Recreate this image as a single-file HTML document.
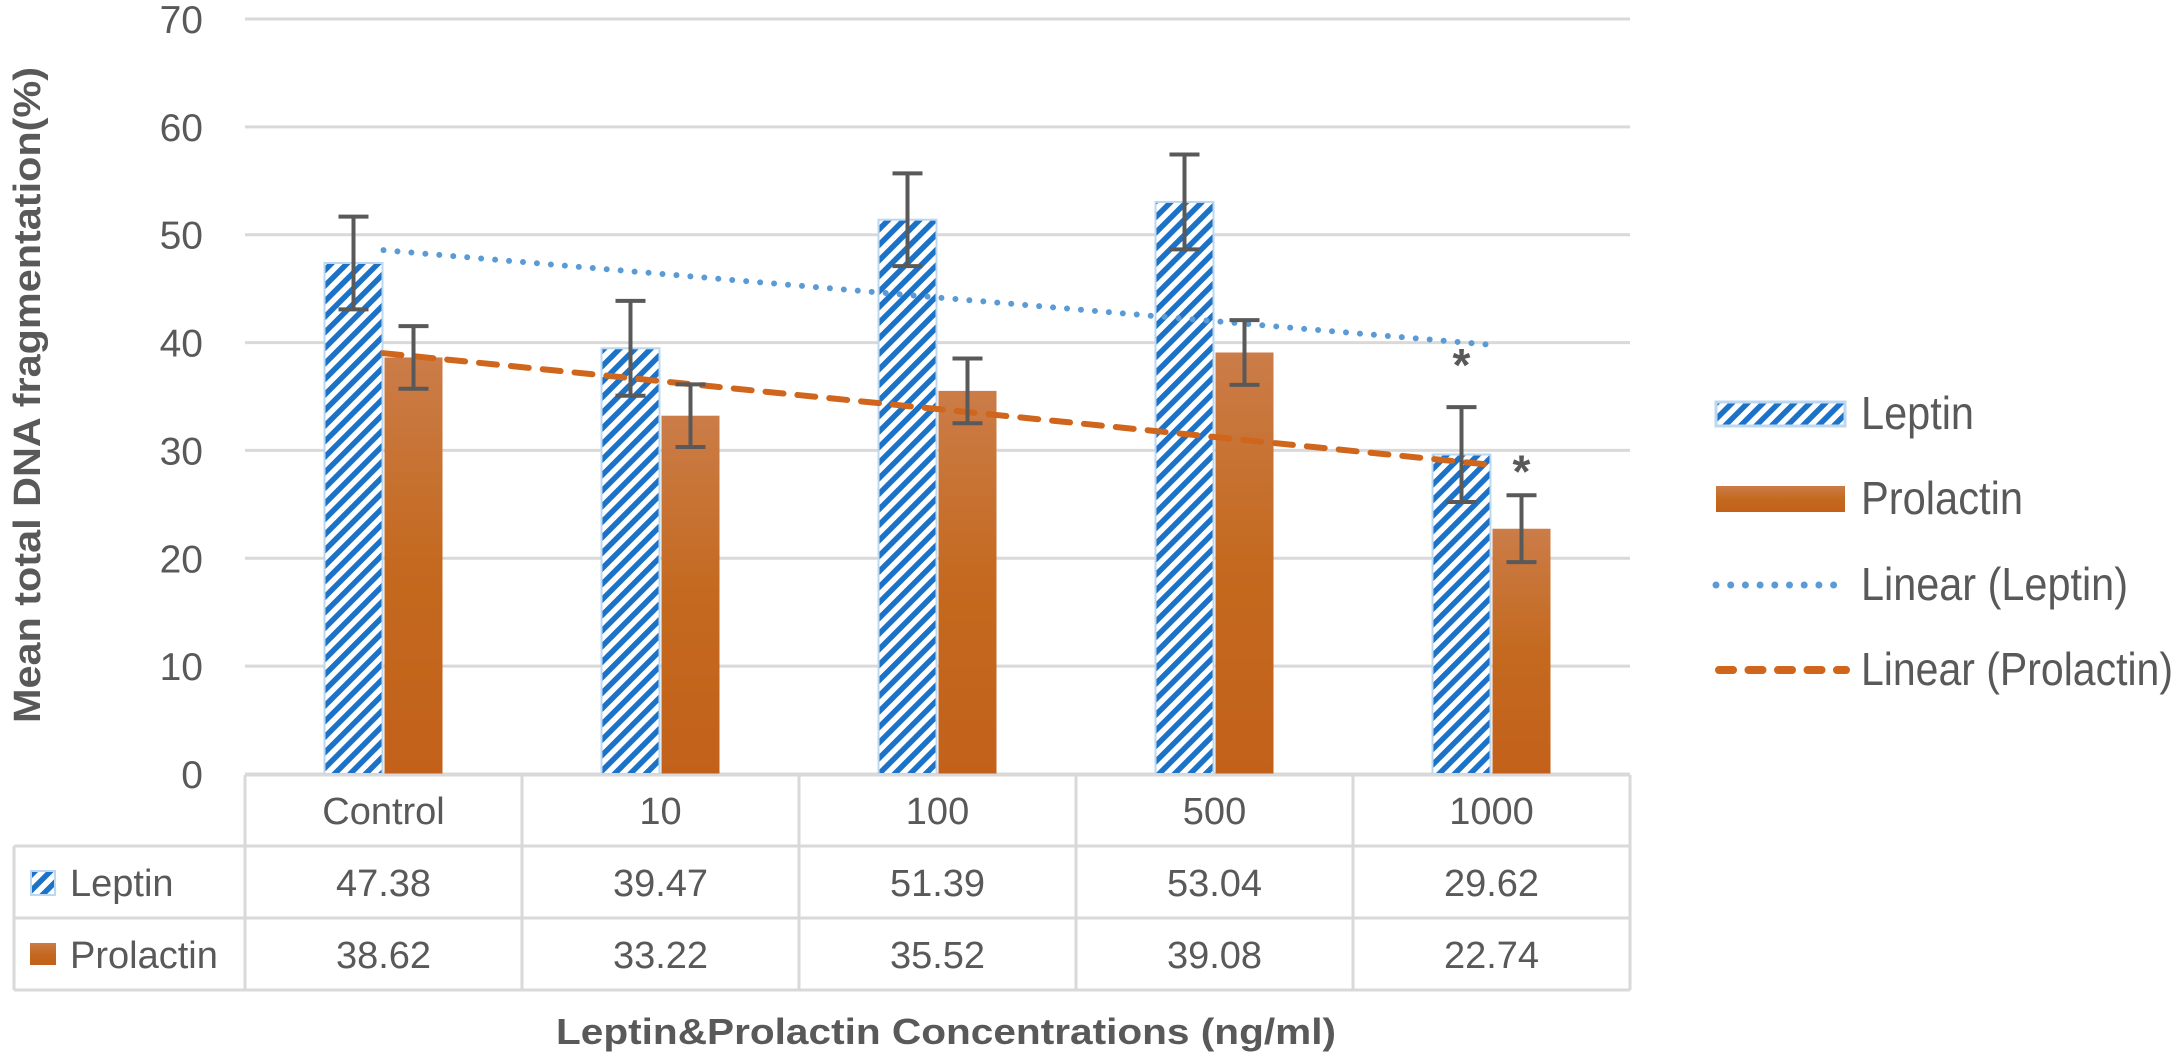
<!DOCTYPE html>
<html><head><meta charset="utf-8"><style>
html,body{margin:0;padding:0;background:#fff;}
svg{display:block;}
text{font-family:"Liberation Sans",sans-serif;fill:#595959;}
</style></head><body>
<svg id="chart" width="2175" height="1055" viewBox="0 0 2175 1055" xmlns="http://www.w3.org/2000/svg">
<defs>
<pattern id="stripes" patternUnits="userSpaceOnUse" width="11" height="11" patternTransform="rotate(45)">
<rect width="11" height="11" fill="#fff"/>
<rect width="5.5" height="11" fill="#1b72c6"/>
</pattern>
<linearGradient id="orange" x1="0" y1="0" x2="0" y2="1">
<stop offset="0" stop-color="#cb7c48"/>
<stop offset="0.5" stop-color="#c4691f"/>
<stop offset="1" stop-color="#c3611a"/>
</linearGradient>
</defs>
<g id="grid"></g>
<g id="bars"></g>
<g id="trends"></g>
<g id="errs"></g>
<g id="table"></g>
<g id="legend"></g>
<text x="0" y="0" transform="translate(40,395) rotate(-90)" text-anchor="middle" font-size="38" font-weight="bold" textLength="656" lengthAdjust="spacingAndGlyphs" style="fill:#595959">Mean total DNA fragmentation(%)</text>
<text x="946" y="1044" text-anchor="middle" font-size="36" font-weight="bold" textLength="780" lengthAdjust="spacingAndGlyphs">Leptin&amp;Prolactin Concentrations (ng/ml)</text>
</svg>
<script>
const categories = ["Control","10","100","500","1000"];
const leptin = [47.38,39.47,51.39,53.04,29.62];
const prolactin = [38.62,33.22,35.52,39.08,22.74];
const leptinErr = [4.3,4.4,4.3,4.4,4.4];
const prolactinErr = [2.9,2.9,3.0,3.0,3.1];
const yTicks = [0,10,20,30,40,50,60,70];
const sig = [false,false,false,false,true];

const NS="http://www.w3.org/2000/svg";
const X0=245, CW=277, Y0=774, YMAX=70, YH=755;
const y=v=>Y0-v*YH/YMAX;
const cx=i=>X0+CW*i+CW/2;
function mk(tag,attrs,parent,txt){const e=document.createElementNS(NS,tag);for(const k in attrs)e.setAttribute(k,attrs[k]);if(txt!==undefined)e.textContent=txt;parent.appendChild(e);return e;}
const G=id=>document.getElementById(id);

yTicks.forEach(t=>{
  const l=mk('line',{x1:X0,x2:X0+CW*5,y1:y(t),y2:y(t),stroke:'#d9d9d9','stroke-width':3},G('grid'));
  
  
  const tx=mk('text',{x:203,y:y(t)+14,'text-anchor':'end','font-size':39},G('grid'),String(t));
  
  
});

const BW=58;
categories.forEach((c,i)=>{
  const b1=mk('rect',{x:cx(i)-BW-1,y:y(leptin[i]),width:BW,height:Y0-y(leptin[i]),fill:'url(#stripes)',stroke:'#bcd7f0','stroke-width':2},G('bars'));
  
  
  const b2=mk('rect',{x:cx(i)+1,y:y(prolactin[i]),width:BW,height:Y0-y(prolactin[i]),fill:'url(#orange)'},G('bars'));
  
  
});

function err(xc,v,e,name){
  const g=mk('g',{stroke:'#595959','stroke-width':4},G('errs'));
  
  
  mk('line',{x1:xc,x2:xc,y1:y(v+e),y2:y(v-e)},g);
  mk('line',{x1:xc-15,x2:xc+15,y1:y(v+e),y2:y(v+e)},g);
  mk('line',{x1:xc-15,x2:xc+15,y1:y(v-e),y2:y(v-e)},g);
}
categories.forEach((c,i)=>{
  err(cx(i)-BW/2-1,leptin[i],leptinErr[i],'error-bar-leptin-'+c);
  err(cx(i)+BW/2+1,prolactin[i],prolactinErr[i],'error-bar-prolactin-'+c);
  if(sig[i]){
    const s1=mk('text',{x:cx(i)-BW/2-1,y:y(leptin[i]+leptinErr[i])-26,'text-anchor':'middle','font-size':46,'font-weight':'bold'},G('errs'),'*');
    
    
    const s2=mk('text',{x:cx(i)+BW/2+1,y:y(prolactin[i]+prolactinErr[i])-8,'text-anchor':'middle','font-size':46,'font-weight':'bold'},G('errs'),'*');
    
    
  }
});

function reg(arr){const n=arr.length,mx=(n+1)/2,my=arr.reduce((a,b)=>a+b)/n;let s=0,d=0;arr.forEach((v,i)=>{s+=(i+1-mx)*(v-my);d+=(i+1-mx)**2;});const m=s/d;return k=>my+m*(k-mx);}
const fl=reg(leptin), fp=reg(prolactin);
const t1=mk('line',{x1:cx(0),y1:y(fl(1)),x2:cx(4),y2:y(fl(5)),stroke:'#5b9bd5','stroke-width':6,'stroke-linecap':'round','stroke-dasharray':'0 14'},G('trends'));


const t2=mk('line',{x1:cx(0),y1:y(fp(1)),x2:cx(4),y2:y(fp(5)),stroke:'#d0651c','stroke-width':6,'stroke-linecap':'round','stroke-dasharray':'18 14'},G('trends'));



const T=G('table'), LC='#d9d9d9';
mk('line',{x1:X0,x2:X0+CW*5,y1:775,y2:775,stroke:LC,'stroke-width':3},T);
[846,918,990].forEach(r=>mk('line',{x1:14,x2:X0+CW*5,y1:r,y2:r,stroke:LC,'stroke-width':3},T));
mk('line',{x1:14,x2:14,y1:846,y2:990,stroke:LC,'stroke-width':3},T);
for(let k=0;k<=5;k++)mk('line',{x1:X0+CW*k,x2:X0+CW*k,y1:775,y2:990,stroke:LC,'stroke-width':3},T);
categories.forEach((c,i)=>{
  const a=mk('text',{x:cx(i),y:824,'text-anchor':'middle','font-size':38},T,c);
  
  
  const b=mk('text',{x:cx(i),y:896,'text-anchor':'middle','font-size':38},T,leptin[i].toFixed(2));
  
  
  const d=mk('text',{x:cx(i),y:968,'text-anchor':'middle','font-size':38},T,prolactin[i].toFixed(2));
  
  
});
const k1=mk('rect',{x:31,y:871,width:24,height:24,fill:'url(#stripes)',stroke:'#bcd7f0','stroke-width':2},T);


const k2=mk('rect',{x:30,y:943,width:26,height:22,fill:'url(#orange)'},T);


const r1=mk('text',{x:70,y:896,'font-size':38},T,'Leptin');


const r2=mk('text',{x:70,y:968,'font-size':38},T,'Prolactin');



const L=G('legend');
const e1=mk('g',{},L);


mk('rect',{x:1716,y:402,width:129,height:24,fill:'url(#stripes)',stroke:'#bcd7f0','stroke-width':3},e1);
mk('text',{x:1861,y:429,'font-size':46,textLength:113,lengthAdjust:'spacingAndGlyphs'},e1,'Leptin');
const e2=mk('g',{},L);


mk('rect',{x:1716,y:486,width:129,height:26,fill:'url(#orange)'},e2);
mk('text',{x:1861,y:514,'font-size':46,textLength:162,lengthAdjust:'spacingAndGlyphs'},e2,'Prolactin');
const e3=mk('g',{},L);


mk('line',{x1:1716,x2:1840,y1:585,y2:585,stroke:'#5b9bd5','stroke-width':7,'stroke-linecap':'round','stroke-dasharray':'0 14.7'},e3);
mk('text',{x:1861,y:600,'font-size':46,textLength:267,lengthAdjust:'spacingAndGlyphs'},e3,'Linear (Leptin)');
const e4=mk('g',{},L);


mk('line',{x1:1719,x2:1846,y1:670,y2:670,stroke:'#d0651c','stroke-width':8,'stroke-linecap':'round','stroke-dasharray':'14 15.5'},e4);
mk('text',{x:1861,y:685,'font-size':46,textLength:312,lengthAdjust:'spacingAndGlyphs'},e4,'Linear (Prolactin)');
</script>
</body></html>
